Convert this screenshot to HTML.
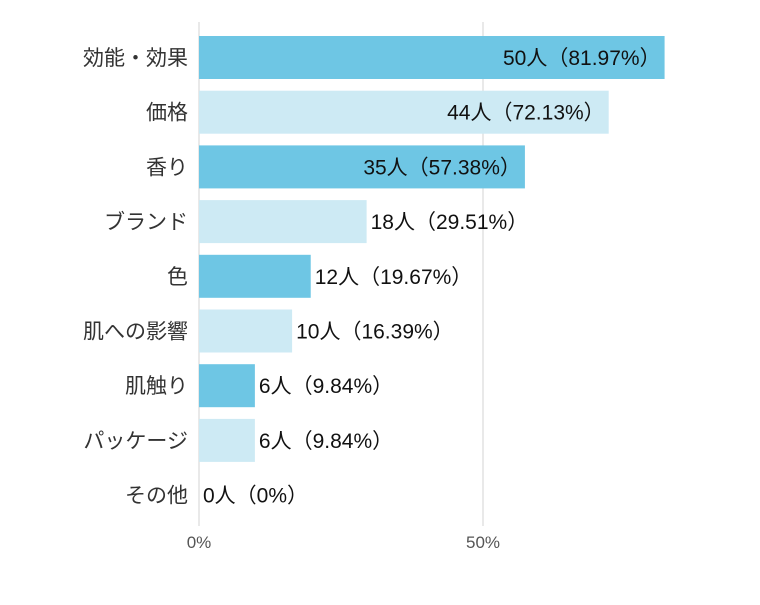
<!DOCTYPE html>
<html><head><meta charset="utf-8"><style>
body{margin:0;background:#fff;}
svg text{font-family:"Liberation Sans","Noto Sans CJK JP",sans-serif;}
</style></head><body>
<svg id="chart" width="760" height="600" xmlns="http://www.w3.org/2000/svg"></svg>
<script>
const categories=["効能・効果","価格","香り","ブランド","色","肌への影響","肌触り","パッケージ","その他"];
const counts=[50,44,35,18,12,10,6,6,0];
const percents=[81.97,72.13,57.38,29.51,19.67,16.39,9.84,9.84,0];
const pctLabels=["81.97%","72.13%","57.38%","29.51%","19.67%","16.39%","9.84%","9.84%","0%"];
const ticks=[0,50];
const NS="http://www.w3.org/2000/svg";
const svg=document.getElementById('chart');
const x0=199,pxPer=5.68,top0=36,pitch=54.7,bh=43;
const xs=v=>x0+v*pxPer;
const ys=i=>top0+i*pitch;
function mk(t,a){const e=document.createElementNS(NS,t);for(const k in a)e.setAttribute(k,a[k]);svg.appendChild(e);return e;}
ticks.forEach(t=>{
 const l=mk('line',{x1:xs(t),x2:xs(t),y1:22,y2:526,stroke:'#e2e2e2','stroke-width':1.5});
 
 
 const tx=mk('text',{x:xs(t),y:548,'text-anchor':'middle','font-size':17,fill:'#555'});
 tx.textContent=t+'%';
 
 
});
categories.forEach((c,i)=>{
 const y=ys(i),w=xs(percents[i])-x0;
 const r=mk('rect',{x:x0,y:y,width:w,height:bh,fill:i%2?'#cdeaf4':'#6ec6e4'});
 
 
 const lab=mk('text',{x:188,y:y+bh/2+7.5,'text-anchor':'end','font-size':21,fill:'#333'});
 lab.textContent=c;
 
 
 const txt=counts[i]+'人（'+pctLabels[i]+'）';
 const inside=percents[i]>40;
 const v=mk('text',{x:inside?xs(percents[i])-4:xs(percents[i])+4,y:y+bh/2+7.5,'text-anchor':inside?'end':'start','font-size':21,fill:'#111'});
 v.textContent=txt;
 
 
});
</script>
</body></html>
